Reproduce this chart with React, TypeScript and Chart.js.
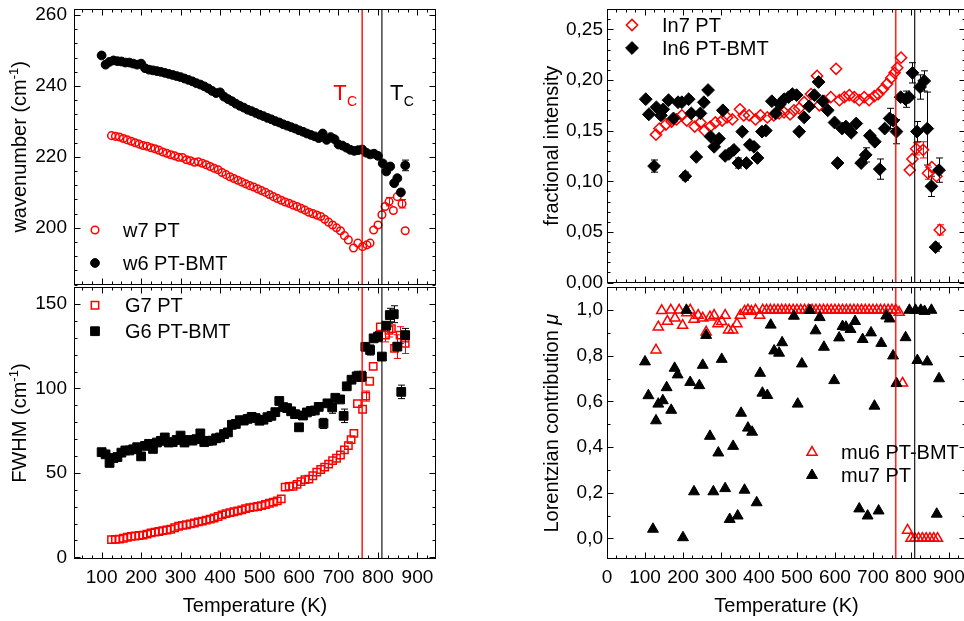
import React, { useEffect, useRef } from 'react';
import { Chart, registerables } from 'chart.js';
Chart.register(...registerables);

const FONT = '"Liberation Sans", Arial, Helvetica, sans-serif';
const RED = '#ff0000';
const BLACK = '#000000';

// ---------------- data ----------------
// Tc marker temperatures (K)
const TC_LINES = [760, 810];
const TC_COLORS = ['rgba(255,0,0,0.85)', '#000000'];
const TC_LABEL_Y = 236;

// tick labels
const X_TICKS_LEFT = [100, 200, 300, 400, 500, 600, 700, 800, 900];
const X_TICKS_RIGHT = [0, 100, 200, 300, 400, 500, 600, 700, 800, 900];
const Y_TICKS_WN = [200, 220, 240, 260];
const Y_TICKS_FWHM = [0, 50, 100, 150];
const Y_TICKS_FRAC = [0, 0.05, 0.1, 0.15, 0.2, 0.25];
const Y_TICKS_MU = [0, 0.2, 0.4, 0.6, 0.8, 1.0];

// w7 PT (wavenumber)
const w7PT_T = [125, 135, 145, 155, 165, 175, 185, 195, 205, 215,
  225, 235, 245, 255, 265, 275, 285, 295, 305, 315,
  325, 335, 345, 355, 365, 375, 385, 395, 405, 415,
  425, 435, 445, 455, 465, 475, 485, 495, 505, 515,
  525, 535, 545, 555, 565, 575, 585, 595, 605, 615,
  625, 635, 645, 655, 665, 675, 685, 695, 705, 715,
  725, 738, 749, 761, 772, 780, 789, 800, 810, 818,
  828, 839, 849, 861, 869];
const w7PT_wn = [226.0, 225.8, 225.6, 225.2, 224.8, 224.4, 224.0, 223.6, 223.2, 223.0,
  222.6, 222.3, 221.9, 221.4, 221.0, 220.6, 220.3, 219.9, 219.8, 219.2,
  218.9, 218.5, 218.6, 218.2, 217.8, 217.3, 216.8, 216.4, 215.6, 215.0,
  214.4, 213.9, 213.4, 212.9, 212.4, 211.9, 211.5, 211.0, 210.5, 210.0,
  209.4, 208.8, 208.3, 207.8, 207.3, 206.9, 206.4, 206.0, 205.5, 205.0,
  204.4, 204.0, 203.6, 203.2, 202.4, 201.6, 200.8, 200.0, 199.2, 197.8,
  196.6, 194.3, 195.7, 194.7, 195.2, 195.7, 199.4, 200.8, 203.7, 206.0,
  207.4, 204.9, 208.8, 206.8, 199.2];
const w7PT_err: [number, number][] = [[828, 1.2], [861, 1.2]];

// w6 PT-BMT (wavenumber)
const w6PTBMT_T = [100, 110, 120, 130, 140, 150, 160, 170, 180, 190,
  200, 210, 220, 230, 240, 250, 260, 270, 280, 290,
  300, 310, 320, 330, 340, 350, 360, 370, 380, 390,
  400, 410, 420, 430, 440, 450, 460, 470, 480, 490,
  500, 510, 520, 530, 540, 550, 560, 570, 580, 590,
  600, 610, 620, 630, 640, 650, 660, 670, 680, 690,
  700, 710, 720, 730, 740, 750, 760, 770, 780, 790,
  800, 812, 821, 831, 841, 849, 858, 869];
const w6PTBMT_wn = [248.6, 246.0, 246.8, 247.2, 247.0, 246.9, 246.6, 246.6, 246.3, 246.0,
  246.3, 245.0, 244.6, 244.4, 244.2, 244.0, 243.7, 243.4, 243.1, 242.8,
  242.5, 242.1, 241.7, 241.3, 240.8, 240.4, 239.9, 239.3, 238.6, 238.0,
  238.2, 237.0, 236.3, 235.7, 235.0, 234.4, 233.9, 233.3, 232.9, 232.4,
  231.9, 231.5, 231.0, 230.6, 230.1, 229.7, 229.2, 228.8, 228.4, 228.0,
  227.5, 227.1, 226.6, 226.2, 225.8, 225.3, 226.6, 224.8, 225.6, 225.0,
  223.5, 223.2, 222.6, 222.0, 221.7, 221.9, 222.1, 221.2, 220.7, 220.9,
  220.3, 218.2, 215.9, 217.3, 212.6, 214.0, 210.0, 217.6];
const w6PTBMT_err: [number, number][] = [[869, 1.5]];

// G7 PT (FWHM)
const G7PT_T = [125, 135, 145, 155, 165, 175, 185, 195, 205, 215,
  225, 235, 245, 255, 265, 275, 285, 295, 305, 315,
  325, 335, 345, 355, 365, 375, 385, 395, 405, 415,
  425, 435, 445, 455, 465, 475, 485, 495, 505, 515,
  525, 535, 545, 555, 565, 575, 585, 595, 605, 615,
  625, 635, 645, 655, 665, 675, 685, 695, 705, 715,
  725, 732, 739, 748, 761, 769, 779, 788, 806, 819,
  828, 834, 842, 848, 856, 869];
const G7PT_fwhm = [10.5, 10.6, 10.8, 11.3, 11.9, 12.4, 12.6, 12.9, 13.1, 13.7,
  14.5, 14.9, 15.3, 15.8, 16.2, 16.6, 17.5, 18.4, 18.9, 19.3,
  19.8, 20.3, 21.0, 21.4, 22.0, 22.6, 23.3, 24.2, 25.1, 25.9,
  26.5, 27.0, 27.5, 28.1, 28.8, 29.4, 29.7, 30.1, 30.6, 31.3,
  32.0, 32.7, 33.4, 34.6, 41.6, 42.0, 42.1, 43.2, 44.8, 46.0,
  46.3, 48.3, 50.5, 52.0, 53.4, 55.2, 57.3, 58.7, 60.6, 63.6,
  66.2, 69.7, 73.4, 91.0, 87.7, 95.5, 104.3, 113.1, 136.5, 131.6,
  134.5, 135.5, 123.8, 124.8, 131.6, 126.7];
const G7PT_err: [number, number][] = [[769, 3], [819, 4], [828, 4], [848, 7], [856, 5], [869, 6]];

// G6 PT-BMT (FWHM)
const G6PTBMT_T = [100, 110, 120, 130, 140, 150, 160, 170, 180, 190,
  200, 210, 220, 230, 240, 250, 260, 270, 280, 290,
  300, 310, 320, 330, 340, 350, 360, 370, 380, 390,
  400, 410, 420, 430, 440, 450, 460, 470, 480, 490,
  500, 510, 520, 530, 540, 550, 560, 570, 580, 590,
  600, 610, 620, 630, 640, 650, 662, 672, 684, 692,
  704, 713, 721, 733, 746, 759, 768, 780, 789, 800,
  810, 821, 830, 840, 849, 859, 869];
const G6PTBMT_fwhm = [62.3, 61.0, 55.9, 58.8, 59.4, 62.0, 63.3, 63.3, 64.0, 65.2,
  59.8, 66.0, 67.2, 64.2, 68.0, 69.0, 71.0, 68.0, 68.2, 69.5,
  72.1, 68.0, 69.5, 69.1, 70.0, 73.4, 68.2, 69.0, 69.1, 70.5,
  71.0, 73.0, 74.0, 78.5, 79.0, 81.2, 81.0, 82.0, 83.2, 82.5,
  80.9, 81.5, 83.0, 83.8, 86.0, 92.6, 89.0, 88.4, 86.5, 84.8,
  77.0, 84.0, 85.8, 86.7, 87.0, 89.1, 79.3, 91.2, 88.8, 94.5,
  93.5, 83.8, 101.3, 105.2, 107.2, 107.2, 124.7, 122.8, 129.7, 130.7,
  118.9, 137.2, 143.5, 144.0, 124.8, 98.0, 131.6];
const G6PTBMT_err: [number, number][] = [[662, 3], [684, 3.5], [713, 4], [746, 3], [759, 3], [780, 3], [800, 3], [830, 4], [840, 5], [859, 4], [869, 4]];

// In7 PT (fractional intensity)
const In7PT_T = [129, 138, 155, 170, 183, 197, 210, 231, 246, 257,
  272, 285, 303, 316, 330, 350, 360, 374, 391, 404,
  422, 439, 453, 466, 482, 492, 506, 519, 537, 553,
  559, 572, 589, 603, 612, 625, 638, 651, 664, 677,
  690, 704, 714, 726, 737, 748, 757, 764, 774, 797,
  804, 814, 832, 845, 855, 867, 876];
const In7PT_frac = [0.146, 0.152, 0.156, 0.159, 0.161, 0.165, 0.160, 0.154, 0.158, 0.150,
  0.154, 0.158, 0.160, 0.163, 0.161, 0.171, 0.165, 0.165, 0.161, 0.165,
  0.163, 0.165, 0.167, 0.168, 0.166, 0.170, 0.172, 0.178, 0.186, 0.204,
  0.175, 0.179, 0.183, 0.211, 0.180, 0.183, 0.185, 0.183, 0.180, 0.183,
  0.180, 0.184, 0.186, 0.191, 0.196, 0.202, 0.207, 0.212, 0.222, 0.111,
  0.122, 0.132, 0.131, 0.108, 0.114, 0.105, 0.052];
const In7PT_err: [number, number][] = [[814, 0.006], [832, 0.008], [845, 0.006], [876, 0.005]];

// In6 PT-BMT (fractional intensity)
const In6PTBMT_T = [102, 110, 124, 130, 142, 148, 162, 175, 187, 197,
  206, 215, 222, 235, 246, 255, 266, 273, 282, 295,
  305, 311, 321, 334, 346, 356, 367, 376, 387, 396,
  408, 418, 434, 444, 455, 466, 478, 488, 499, 506,
  519, 532, 546, 557, 568, 581, 599, 607, 619, 629,
  643, 656, 669, 681, 692, 705, 718, 731, 744, 753,
  762, 773, 786, 795, 804, 816, 824, 835, 843, 854,
  865, 874];
const In6PTBMT_frac = [0.181, 0.166, 0.115, 0.173, 0.165, 0.171, 0.180, 0.162, 0.178, 0.178,
  0.105, 0.181, 0.167, 0.124, 0.167, 0.178, 0.190, 0.144, 0.134, 0.142,
  0.170, 0.125, 0.127, 0.131, 0.118, 0.149, 0.118, 0.136, 0.134, 0.123,
  0.149, 0.150, 0.179, 0.167, 0.176, 0.181, 0.183, 0.186, 0.185, 0.149,
  0.163, 0.174, 0.185, 0.198, 0.179, 0.170, 0.158, 0.118, 0.152, 0.154,
  0.148, 0.157, 0.118, 0.126, 0.145, 0.139, 0.112, 0.152, 0.162, 0.160,
  0.149, 0.183, 0.181, 0.183, 0.207, 0.149, 0.193, 0.199, 0.152, 0.095,
  0.035, 0.111];
const In6PTBMT_err: [number, number][] = [[124, 0.006], [206, 0.004], [346, 0.005], [681, 0.007], [718, 0.01], [744, 0.01], [762, 0.012], [786, 0.008], [804, 0.01], [816, 0.01], [824, 0.012], [835, 0.01], [843, 0.036], [854, 0.01], [865, 0.004], [874, 0.012]];

// mu6 PT-BMT (Lorentzian contribution)
const mu6PTBMT_T = [129, 135, 144, 159, 168, 179, 190, 199, 210, 219,
  229, 240, 252, 261, 271, 282, 292, 302, 311, 320,
  331, 342, 351, 362, 371, 380, 391, 402, 410, 420,
  430, 440, 450, 460, 470, 480, 490, 500, 510, 520,
  530, 540, 550, 560, 570, 580, 590, 600, 610, 620,
  630, 640, 650, 660, 670, 680, 690, 700, 710, 720,
  730, 740, 750, 760, 769, 778, 791, 800, 810, 820,
  830, 840, 850, 860, 870];
const mu6PTBMT_mu = [0.825, 0.926, 0.998, 0.951, 1.0, 0.965, 1.0, 0.933, 0.988, 1.0,
  0.96, 0.977, 0.965, 0.904, 0.97, 0.977, 0.94, 0.95, 0.977, 0.912,
  0.912, 0.94, 0.977, 0.995, 1.0, 0.995, 1.0, 0.977, 1.0, 1.0,
  1.0, 1.0, 1.0, 1.0, 1.0, 1.0, 1.0, 1.0, 1.0, 1.0,
  1.0, 1.0, 1.0, 1.0, 1.0, 1.0, 1.0, 1.0, 1.0, 1.0,
  1.0, 1.0, 1.0, 1.0, 1.0, 1.0, 1.0, 1.0, 1.0, 1.0,
  1.0, 1.0, 1.0, 1.0, 0.99, 0.68, 0.036, 0.0, 0.0, 0.0,
  0.0, 0.0, 0.0, 0.0, 0.0];

// mu7 PT (Lorentzian contribution)
const mu7PT_T = [100, 109, 121, 129, 135, 147, 157, 169, 178, 186,
  200, 209, 219, 229, 243, 252, 261, 271, 280, 293,
  302, 311, 323, 332, 344, 353, 362, 371, 382, 394,
  403, 409, 422, 431, 440, 453, 461, 492, 502, 513,
  534, 549, 560, 571, 598, 611, 620, 629, 641, 653,
  664, 673, 686, 695, 704, 715, 722, 735, 744, 753,
  762, 786, 796, 812, 817, 826, 836, 843, 854, 868,
  874];
const mu7PT_mu = [0.774, 0.626, 0.041, 0.516, 0.589, 0.604, 0.661, 0.562, 0.746, 0.717,
  0.004, 1.0, 0.684, 0.205, 0.67, 0.759, 0.89, 0.448, 0.205, 0.375,
  0.785, 0.219, 0.084, 0.404, 0.099, 0.549, 0.212, 0.484, 0.466, 0.157,
  0.724, 0.637, 0.627, 0.935, 0.822, 0.812, 0.858, 0.974, 0.589, 0.765,
  0.999, 0.91, 0.968, 0.838, 0.692, 0.879, 0.929, 0.926, 0.916, 0.951,
  0.13, 0.872, 0.099, 0.901, 0.58, 0.121, 0.855, 0.975, 0.962, 0.8,
  0.679, 0.88, 1.0, 1.0, 0.78, 1.0, 0.995, 0.774, 1.0, 0.107,
  0.70];

// ---------------- rendering ----------------
type Sym = 'circle' | 'rect' | 'rectRot' | 'triangle';
interface SeriesDef {
  label: string; x: number[]; y: number[]; sym: Sym; filled: boolean;
  color: string; r: number; lw: number; err?: [number, number][]; order: number;
}
interface TitleSeg { t: string; sup?: boolean; italic?: boolean }
interface PanelDef {
  left: number; top: number; width: number; height: number;
  pad: { top: number; right: number; bottom: number; left: number };
  yWidth: number; showX: boolean; xHeight: number;
  xMin: number; xMax: number; xTicks: number[]; xMinor: number;
  yMin: number; yMax: number; yTicks: number[]; yMinor: number; yFmt: (v: number) => string;
  yTitle: TitleSeg[]; yTitleX: number; yLabelPad: number;
  series: SeriesDef[];
  legend: { dx: number; dy: number[]; textDx: number };
  tcLabels: boolean;
}

const TITLE_SIZE = 20;

function drawSymbol(ctx: CanvasRenderingContext2D, s: SeriesDef, x: number, y: number) {
  const r = s.r;
  ctx.save();
  ctx.beginPath();
  if (s.sym === 'circle') {
    ctx.arc(x, y, r, 0, Math.PI * 2);
  } else if (s.sym === 'rect') {
    const h = r * Math.SQRT1_2;
    ctx.rect(x - h, y - h, 2 * h, 2 * h);
  } else if (s.sym === 'rectRot') {
    ctx.moveTo(x - r, y); ctx.lineTo(x, y - r); ctx.lineTo(x + r, y); ctx.lineTo(x, y + r); ctx.closePath();
  } else {
    let rad = 0;
    ctx.moveTo(x + Math.sin(rad) * r, y - Math.cos(rad) * r);
    rad += (2 * Math.PI) / 3;
    ctx.lineTo(x + Math.sin(rad) * r, y - Math.cos(rad) * r);
    rad += (2 * Math.PI) / 3;
    ctx.lineTo(x + Math.sin(rad) * r, y - Math.cos(rad) * r);
    ctx.closePath();
  }
  if (s.filled) { ctx.fillStyle = s.color; ctx.fill(); }
  ctx.strokeStyle = s.color; ctx.lineWidth = s.lw; ctx.stroke();
  ctx.restore();
}

function stepValues(min: number, max: number, step: number): number[] {
  const out: number[] = [];
  const k0 = Math.ceil(min / step - 1e-9);
  const k1 = Math.floor(max / step + 1e-9);
  for (let k = k0; k <= k1; k++) out.push(+(k * step).toFixed(6));
  return out;
}

function segFont(sg: TitleSeg) {
  return `${sg.italic ? 'italic ' : ''}${sg.sup ? 13 : TITLE_SIZE}px ${FONT}`;
}

function makeDecor(p: PanelDef) {
  return {
    id: 'decor',
    beforeDatasetsDraw(chart: any) {
      const { ctx } = chart;
      const xs = chart.scales.x, ys = chart.scales.y;
      ctx.save();
      for (const s of p.series) {
        if (!s.err) continue;
        ctx.strokeStyle = s.color; ctx.lineWidth = 1;
        for (const [xv, e] of s.err) {
          const i = s.x.indexOf(xv);
          if (i < 0) continue;
          const px = Math.round(xs.getPixelForValue(xv)) + 0.5;
          const y1 = ys.getPixelForValue(s.y[i] + e);
          const y2 = ys.getPixelForValue(s.y[i] - e);
          ctx.beginPath();
          ctx.moveTo(px, y1); ctx.lineTo(px, y2);
          ctx.moveTo(px - 3.5, y1); ctx.lineTo(px + 3.5, y1);
          ctx.moveTo(px - 3.5, y2); ctx.lineTo(px + 3.5, y2);
          ctx.stroke();
        }
      }
      ctx.restore();
    },
    afterDatasetsDraw(chart: any) {
      const { ctx, chartArea: a } = chart;
      const xs = chart.scales.x, ys = chart.scales.y;
      ctx.save();
      // Tc lines
      TC_LINES.forEach((t, i) => {
        const px = xs.getPixelForValue(t);
        ctx.strokeStyle = TC_COLORS[i];
        ctx.lineWidth = i === 0 ? 1.6 : 1.1;
        ctx.beginPath(); ctx.moveTo(px, a.top); ctx.lineTo(px, a.bottom); ctx.stroke();
      });
      // frame
      const L = Math.round(a.left) + 0.5, R = Math.round(a.right) - 0.5;
      const T = Math.round(a.top) + 0.5, B = Math.round(a.bottom) - 0.5;
      ctx.strokeStyle = '#000'; ctx.lineWidth = 1;
      ctx.strokeRect(L, T, R - L, B - T);
      // ticks
      const MAJ = 6, MIN = 3;
      ctx.beginPath();
      const xMaj = new Set(p.xTicks.map((v) => +v.toFixed(6)));
      for (const v of stepValues(p.xMin, p.xMax, p.xMinor)) {
        const len = xMaj.has(v) ? MAJ : MIN;
        const px = Math.round(xs.getPixelForValue(v)) + 0.5;
        ctx.moveTo(px, B); ctx.lineTo(px, B - len);
        ctx.moveTo(px, T); ctx.lineTo(px, T + len);
      }
      const yMaj = new Set(p.yTicks.map((v) => +v.toFixed(6)));
      for (const v of stepValues(p.yMin, p.yMax, p.yMinor)) {
        const len = yMaj.has(v) ? MAJ : MIN;
        const py = Math.round(ys.getPixelForValue(v)) + 0.5;
        ctx.moveTo(L, py); ctx.lineTo(L + len, py);
        ctx.moveTo(R, py); ctx.lineTo(R - len, py);
      }
      ctx.stroke();
      // y title (rotated, with superscript / italic parts)
      ctx.save();
      ctx.translate(p.yTitleX, (a.top + a.bottom) / 2);
      ctx.rotate(-Math.PI / 2);
      ctx.fillStyle = '#000';
      ctx.textBaseline = 'middle';
      ctx.textAlign = 'left';
      let total = 0;
      for (const sg of p.yTitle) { ctx.font = segFont(sg); total += ctx.measureText(sg.t).width; }
      let cx = -total / 2;
      for (const sg of p.yTitle) {
        ctx.font = segFont(sg);
        ctx.fillText(sg.t, cx, sg.sup ? -6 : 0);
        cx += ctx.measureText(sg.t).width;
      }
      ctx.restore();
      // legend
      ctx.font = `20px ${FONT}`;
      ctx.textBaseline = 'middle';
      ctx.textAlign = 'left';
      p.series.forEach((s, i) => {
        const sx = a.left + p.legend.dx;
        const sy = a.top + p.legend.dy[i];
        drawSymbol(ctx, s, sx, sy);
        ctx.fillStyle = '#000';
        ctx.fillText(s.label, sx + p.legend.textDx, sy + 1);
      });
      // Tc labels
      if (p.tcLabels) {
        const by = ys.getPixelForValue(TC_LABEL_Y);
        TC_LINES.forEach((t, i) => {
          const px = xs.getPixelForValue(t);
          const tx = i === 0 ? px - 29 : px + 8;
          ctx.fillStyle = i === 0 ? RED : BLACK;
          ctx.textBaseline = 'alphabetic';
          ctx.font = `22px ${FONT}`;
          ctx.fillText('T', tx, by);
          const w = ctx.measureText('T').width;
          ctx.font = `14px ${FONT}`;
          ctx.fillText('C', tx + w + 0.5, by + 6);
        });
      }
      ctx.restore();
    },
  };
}

function zeroPad(s: any) {
  s.paddingTop = 0; s.paddingBottom = 0; s.paddingLeft = 0; s.paddingRight = 0;
}

function Panel({ p }: { p: PanelDef }) {
  const ref = useRef<HTMLCanvasElement | null>(null);
  useEffect(() => {
    if (!ref.current) return;
    const datasets = p.series.map((s) => ({
      label: s.label,
      data: s.x.map((xv, i) => ({ x: xv, y: s.y[i] })),
      showLine: false,
      pointStyle: s.sym,
      pointRadius: s.r,
      pointHoverRadius: s.r,
      pointBackgroundColor: s.filled ? s.color : 'rgba(0,0,0,0)',
      pointBorderColor: s.color,
      pointBorderWidth: s.lw,
      order: s.order,
    }));
    const tickFont = { family: FONT, size: 19 };
    const chart = new Chart(ref.current, {
      type: 'scatter',
      data: { datasets },
      options: {
        animation: false,
        responsive: false,
        maintainAspectRatio: false,
        devicePixelRatio: 1,
        events: [],
        layout: { padding: p.pad },
        plugins: { legend: { display: false }, tooltip: { enabled: false } },
        scales: {
          x: {
            type: 'linear',
            min: p.xMin,
            max: p.xMax,
            display: p.showX,
            grid: { display: false, drawTicks: false },
            border: { display: false },
            ticks: { color: '#000', font: tickFont, padding: 7, autoSkip: false, maxRotation: 0, callback: (v: any) => String(v) },
            afterBuildTicks: (s: any) => { s.ticks = p.xTicks.map((v) => ({ value: v })); },
            afterFit: (s: any) => { s.height = p.xHeight; zeroPad(s); },
            title: { display: true, text: 'Temperature (K)', color: '#000', font: { family: FONT, size: TITLE_SIZE }, padding: { top: 0, bottom: 3 } },
          },
          y: {
            type: 'linear',
            min: p.yMin,
            max: p.yMax,
            grid: { display: false, drawTicks: false },
            border: { display: false },
            ticks: { color: '#000', font: tickFont, padding: p.yLabelPad, autoSkip: false, callback: (v: any) => p.yFmt(Number(v)) },
            afterBuildTicks: (s: any) => { s.ticks = p.yTicks.map((v) => ({ value: v })); },
            afterFit: (s: any) => { s.width = p.yWidth; zeroPad(s); },
            title: { display: false },
          },
        },
      } as any,
      plugins: [makeDecor(p) as any],
    });
    return () => chart.destroy();
  }, [p]);
  return (
    <canvas
      ref={ref}
      width={p.width}
      height={p.height}
      style={{ position: 'absolute', left: p.left, top: p.top, width: p.width, height: p.height, display: 'block' }}
    />
  );
}

const fmt0 = (v: number) => String(v);
const fmt2 = (v: number) => v.toFixed(2).replace('.', ',');
const fmt1 = (v: number) => v.toFixed(1).replace('.', ',');

const PANELS: PanelDef[] = [
  {
    left: 0, top: 0, width: 444, height: 290,
    pad: { top: 9, right: 8, bottom: 5, left: 0 },
    yWidth: 74, showX: false, xHeight: 0,
    xMin: 30, xMax: 947, xTicks: X_TICKS_LEFT, xMinor: 25,
    yMin: 184, yMax: 261.7, yTicks: Y_TICKS_WN, yMinor: 4, yFmt: fmt0,
    yTitle: [{ t: 'wavenumber (cm' }, { t: '-1', sup: true }, { t: ')' }], yTitleX: 20, yLabelPad: 7,
    series: [
      { label: 'w7 PT', x: w7PT_T, y: w7PT_wn, sym: 'circle', filled: false, color: RED, r: 3.8, lw: 1.5, err: w7PT_err, order: 1 },
      { label: 'w6 PT-BMT', x: w6PTBMT_T, y: w6PTBMT_wn, sym: 'circle', filled: true, color: BLACK, r: 4.4, lw: 1, err: w6PTBMT_err, order: 0 },
    ],
    legend: { dx: 21, dy: [221, 254], textDx: 28 },
    tcLabels: true,
  },
  {
    left: 0, top: 280, width: 444, height: 341,
    pad: { top: 5, right: 8, bottom: 0, left: 0 },
    yWidth: 74, showX: true, xHeight: 62,
    xMin: 30, xMax: 947, xTicks: X_TICKS_LEFT, xMinor: 25,
    yMin: -1, yMax: 160, yTicks: Y_TICKS_FWHM, yMinor: 10, yFmt: fmt0,
    yTitle: [{ t: 'FWHM (cm' }, { t: '-1', sup: true }, { t: ')' }], yTitleX: 20, yLabelPad: 7,
    series: [
      { label: 'G7 PT', x: G7PT_T, y: G7PT_fwhm, sym: 'rect', filled: false, color: RED, r: 5.2, lw: 1.5, err: G7PT_err, order: 1 },
      { label: 'G6 PT-BMT', x: G6PTBMT_T, y: G6PTBMT_fwhm, sym: 'rect', filled: true, color: BLACK, r: 6.2, lw: 1, err: G6PTBMT_err, order: 0 },
    ],
    legend: { dx: 21, dy: [18, 44], textDx: 30 },
    tcLabels: false,
  },
  {
    left: 530, top: 0, width: 444, height: 290,
    pad: { top: 9, right: 8, bottom: 5, left: 0 },
    yWidth: 77, showX: false, xHeight: 0,
    xMin: 0, xMax: 945, xTicks: X_TICKS_RIGHT, xMinor: 25,
    yMin: 0, yMax: 0.27, yTicks: Y_TICKS_FRAC, yMinor: 0.01, yFmt: fmt2,
    yTitle: [{ t: 'fractional intensity' }], yTitleX: 22, yLabelPad: 4,
    series: [
      { label: 'In7 PT', x: In7PT_T, y: In7PT_frac, sym: 'rectRot', filled: false, color: RED, r: 5.6, lw: 1.5, err: In7PT_err, order: 1 },
      { label: 'In6 PT-BMT', x: In6PTBMT_T, y: In6PTBMT_frac, sym: 'rectRot', filled: true, color: BLACK, r: 6.4, lw: 1, err: In6PTBMT_err, order: 0 },
    ],
    legend: { dx: 25, dy: [16, 39], textDx: 30 },
    tcLabels: false,
  },
  {
    left: 530, top: 280, width: 444, height: 341,
    pad: { top: 5, right: 8, bottom: 0, left: 0 },
    yWidth: 77, showX: true, xHeight: 62,
    xMin: 0, xMax: 945, xTicks: X_TICKS_RIGHT, xMinor: 25,
    yMin: -0.09, yMax: 1.1, yTicks: Y_TICKS_MU, yMinor: 0.1, yFmt: fmt1,
    yTitle: [{ t: 'Lorentzian contribution ' }, { t: 'μ', italic: true }], yTitleX: 22, yLabelPad: 4,
    series: [
      { label: 'mu6 PT-BMT', x: mu6PTBMT_T, y: mu6PTBMT_mu, sym: 'triangle', filled: false, color: RED, r: 5.8, lw: 1.5, order: 1 },
      { label: 'mu7 PT', x: mu7PT_T, y: mu7PT_mu, sym: 'triangle', filled: true, color: BLACK, r: 6.3, lw: 1, order: 0 },
    ],
    legend: { dx: 205, dy: [165, 188], textDx: 29 },
    tcLabels: false,
  },
];

export default function App() {
  return (
    <div style={{ position: 'fixed', left: 0, top: 0, width: 964, height: 621, overflow: 'hidden', background: '#fff' }}>
      {PANELS.map((p, i) => (
        <Panel key={i} p={p} />
      ))}
    </div>
  );
}
